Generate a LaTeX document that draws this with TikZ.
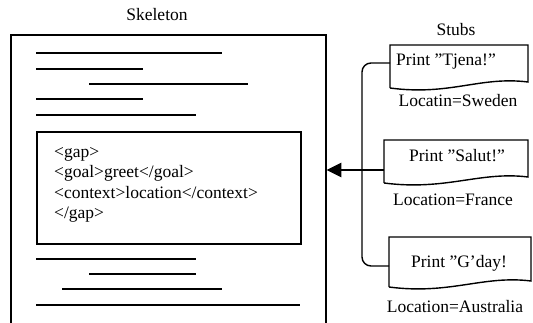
\documentclass[tikz,border=0pt]{standalone}
\usepackage{fontspec}
\setmainfont{Liberation Serif}
\usetikzlibrary{arrows.meta}
\begin{document}
\begin{tikzpicture}[x=1pt,y=-1pt,
  txt/.style={font=\fontsize{17.5}{20.5}\selectfont, inner sep=0pt},
  textline/.style={line width=1.6pt},
  frame/.style={line width=1.4pt},
  stubarea/.style={draw=none, inner sep=0pt},
  stubshape/.style={line width=1.4pt},
  bus/.style={line width=1.4pt, rounded corners=9pt},
  feed/.style={line width=2.6pt, -{Triangle[length=15pt,width=14pt]}}
]
\useasboundingbox (0,0) rectangle (533,323);
% skeleton
\node[txt] (skeltitle) at (157,15) {Skeleton};
\coordinate (skelNW) at (11,35);
\coordinate (skelNE) at (326,35);
\node[stubarea, minimum width=315pt, minimum height=290pt, anchor=north west] (skel) at (11,35) {};
\draw[frame] (11,325) -- (skelNW) -- (skelNE) -- (326,325);
\draw[textline] (36,53) -- (222,53);
\draw[textline] (36,69) -- (143,69);
\draw[textline] (89,84) -- (248,84);
\draw[textline] (36,99) -- (143,99);
\draw[textline] (36,115) -- (196,115);
\node[draw, line width=1.6pt, minimum width=264pt, minimum height=112pt, anchor=north west, inner sep=0pt] (gapbox) at (36,131) {};
\node[txt, anchor=north west, align=left] (gaptext) at (54,147) {<gap>\\<goal>greet</goal>\\<context>location</context>\\</gap>};
\draw[textline] (36,259) -- (196,259);
\draw[textline] (89,274) -- (196,274);
\draw[textline] (62,289) -- (222,289);
\draw[textline] (36,305) -- (300,305);
% stubs
\node[txt] (stubstitle) at (456,30) {Stubs};
% stub 1
\node[stubarea, minimum width=138pt, minimum height=43pt, anchor=north west] (s1) at (390,45) {};
\draw[stubshape] (390,88) -- (390,45) -- (528,45) -- (528,82)
   .. controls (480,76) and (450,96) .. (390,88);
\node[txt, anchor=west] (s1text) at (396,62) {Print ”Tjena!”};
\node[txt] (loc1) at (458,101) {Locatin=Sweden};
% stub 2
\node[stubarea, minimum width=144pt, minimum height=40pt, anchor=north west] (s2) at (384,140) {};
\draw[stubshape] (384,183) -- (384,140) -- (528,140) -- (528,177)
   .. controls (480,171) and (446,191) .. (384,183);
\node[txt] (s2text) at (457,156) {Print ”Salut!”};
\node[txt] (loc2) at (453,200) {Location=France};
% stub 3
\node[stubarea, minimum width=142pt, minimum height=50pt, anchor=north west] (s3) at (389,237) {};
\draw[stubshape] (389,287) -- (389,237) -- (531,237) -- (531,281)
   .. controls (483,275) and (450,295) .. (389,287);
\node[txt] (s3text) at (459,263) {Print ”G’day!};
\node[txt] (loc3) at (455,307) {Location=Australia};
% connectors
\coordinate (s1in) at (390,63);
\coordinate (s2in) at (384,170);
\coordinate (s3in) at (389,266);
\coordinate (busx) at (362,170);
\draw[bus] (s1in) -| (busx) |- (s3in);
\draw[feed] (s2in) -- (s2in -| skel.east);
\end{tikzpicture}
\end{document}
